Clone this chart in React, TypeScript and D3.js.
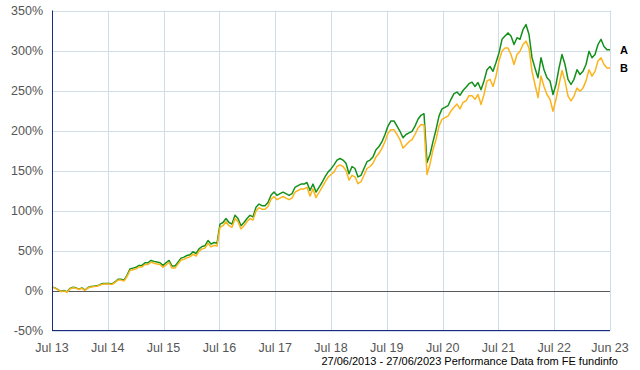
import * as d3 from "d3";

// performance in %, sampled evenly across the 10-year window (186 steps)
const seriesA = [
  4.5, 3.3, 1.2, -1, 0, -1.7, 2.5, 4, 3.3, 1.7,
  3.3, 0.4, 3.7, 5, 5.4, 5.8, 7.4, 8.7, 8.7, 8.7,
  8.3, 10.7, 14, 14, 12.8, 19, 27, 28, 29, 31.4,
  31.4, 34.7, 34.7, 37.6, 36.4, 35.5, 34.7, 31.4, 34.7, 37.6,
  30.6, 30.6, 35.5, 40.5, 41.7, 43.8, 44.6, 48.5, 46, 52,
  55, 56, 62.5, 58, 60, 59, 83, 85, 90, 85,
  83, 94, 90, 81, 85, 90, 94, 92, 104, 108,
  106, 106, 110, 119, 123, 119, 121, 123, 121, 119,
  121, 129, 131, 133, 133, 135, 125, 133, 123, 129,
  135, 142, 148, 152, 157, 163, 165, 163, 159, 146,
  155, 152.5, 142, 144, 152.5, 161, 163, 167, 176, 180,
  186, 195, 205.5, 212, 212, 205.5, 199, 191, 195, 197,
  199, 205.5, 214, 219, 221, 160, 170, 186, 201, 218,
  227, 229, 231, 239, 246, 248, 244, 250, 254, 258.5,
  260.5, 255, 260, 251, 262, 276, 280, 274, 285, 297,
  314, 318, 322, 318, 307.5, 316, 314, 326, 332.5, 320,
  291, 278, 266, 291, 276, 266, 262, 245, 257.5, 278,
  295, 282.5, 264, 257.5, 264, 276, 270, 274, 282.5, 299,
  291, 295, 307.5, 314, 305, 301, 301,
];

const seriesB = [
  4, 3, 0.7, -1.5, -0.5, -2.2, 2, 3.5, 2.8, 1.2,
  2.8, 0, 3.2, 4.5, 4.9, 5.3, 6.8, 8, 8, 8,
  7.6, 10, 13, 13, 11.8, 17.5, 25, 26, 27, 29.5,
  29.5, 32.5, 32.5, 35.5, 34, 33, 32.5, 29, 32, 35,
  28, 28, 33, 38, 39, 41, 42, 45.5, 43, 49,
  52, 53, 59, 54.5, 56.5, 55.5, 79, 81, 86, 81,
  79, 90, 86, 77, 81, 86, 90, 88, 99.5, 103.5,
  101.5, 101.5, 105, 114, 117.5, 113.5, 115.5, 117.5, 115.5, 113.5,
  115.5, 123, 125, 127, 127, 129, 118, 127, 116, 122.5,
  129, 135.5, 141.5, 145, 148, 155, 157, 155, 150, 138,
  144, 142, 133.5, 136, 144, 152.5, 155, 159, 167, 171.5,
  178, 186, 197, 201, 201, 195, 188.5, 178, 182, 186,
  188.5, 195, 203, 207.5, 207, 145, 158, 176, 188.5, 205.5,
  214, 216, 218, 224.5, 229, 233, 227, 235, 237, 243.5,
  243.5, 239, 245, 232.5, 245, 262, 264, 255, 268, 287,
  299, 303, 303, 295, 282.5, 295, 299, 307.5, 311.7, 303,
  274, 257.5, 241, 268, 255, 245, 239, 224, 239, 257.5,
  275, 262, 243, 237, 243, 253, 249, 253, 262, 276,
  268, 274, 287, 291, 282.5, 278, 278,
];

const yTicks = [-50, 0, 50, 100, 150, 200, 250, 300, 350];
const xTickLabels = [
  "Jul 13", "Jul 14", "Jul 15", "Jul 16", "Jul 17", "Jul 18",
  "Jul 19", "Jul 20", "Jul 21", "Jul 22", "Jun 23",
];
const seriesNames = ["A", "B"];
const colors = ["#13901a", "#fcb41c"];

const startDate = new Date(2013, 5, 27);
const endDate = new Date(2023, 5, 27);

const W = 640;
const H = 370;
const left = 52;
const right = 610;
const top = 10.5;
const bottom = 330.5;

export default function App() {
  const x = d3.scaleTime().domain([startDate, endDate]).range([left, right]);
  const y = d3.scaleLinear().domain([-50, 350]).range([bottom, top]);

  const n = seriesA.length - 1;
  const dateAt = (i: number) =>
    new Date(startDate.getTime() + (i / n) * (endDate.getTime() - startDate.getTime()));

  const line = d3
    .line<number>()
    .x((_, i) => x(dateAt(i)))
    .y((d) => y(d));

  const tickDates = xTickLabels.map((_, k) =>
    k === xTickLabels.length - 1 ? endDate : d3.timeYear.offset(startDate, k)
  );

  const font = "'Liberation Sans', Arial, sans-serif";
  const lastA = seriesA[seriesA.length - 1];
  const lastB = seriesB[seriesB.length - 1];

  return (
    <svg
      width={W}
      height={H}
      style={{ position: "absolute", left: 0, top: 0, background: "#fff" }}
    >
      {/* grid */}
      {yTicks.map((t) => (
        <line
          key={"gy" + t}
          x1={left}
          x2={right}
          y1={Math.round(y(t)) + 0.5}
          y2={Math.round(y(t)) + 0.5}
          stroke="#cfdde8"
        />
      ))}
      {tickDates.map((d, k) => (
        <line
          key={"gx" + k}
          x1={Math.round(x(d)) + 0.5}
          x2={Math.round(x(d)) + 0.5}
          y1={top}
          y2={bottom}
          stroke="#cfdde8"
        />
      ))}
      {/* zero line */}
      <line
        x1={left}
        x2={right}
        y1={Math.round(y(0)) + 0.5}
        y2={Math.round(y(0)) + 0.5}
        stroke="#5a5a5a"
      />

      {/* series */}
      <path d={line(seriesA) || ""} fill="none" stroke={colors[0]} strokeWidth={1.5} strokeLinejoin="round" />
      <path d={line(seriesB) || ""} fill="none" stroke={colors[1]} strokeWidth={1.5} strokeLinejoin="round" />

      {/* axes */}
      <line x1={left + 0.5} x2={left + 0.5} y1={top} y2={bottom} stroke="#1a2a80" />
      <line x1={left} x2={right} y1={bottom} y2={bottom} stroke="#1a2a80" />

      {/* y labels */}
      {yTicks.map((t) => (
        <text
          key={"ly" + t}
          x={43}
          y={y(t)}
          dy="0.36em"
          textAnchor="end"
          fontFamily={font}
          fontSize={12.5}
          fill="#555"
        >
          {t}%
        </text>
      ))}
      {/* x labels */}
      {tickDates.map((d, k) => (
        <text
          key={"lx" + k}
          x={x(d)}
          y={347}
          dy="0.36em"
          textAnchor="middle"
          fontFamily={font}
          fontSize={12.5}
          fill="#555"
        >
          {xTickLabels[k]}
        </text>
      ))}

      {/* series names */}
      <text x={620} y={y(lastA)} dy="0.36em" fontFamily={font} fontSize={11} fontWeight="bold" fill="#000">
        {seriesNames[0]}
      </text>
      <text x={620} y={y(lastB)} dy="0.36em" fontFamily={font} fontSize={11} fontWeight="bold" fill="#000">
        {seriesNames[1]}
      </text>

      <text
        x={618}
        y={361}
        dy="0.36em"
        textAnchor="end"
        fontFamily={font}
        fontSize={11}
        fill="#000"
      >
        27/06/2013 - 27/06/2023 Performance Data from FE fundinfo
      </text>
    </svg>
  );
}
